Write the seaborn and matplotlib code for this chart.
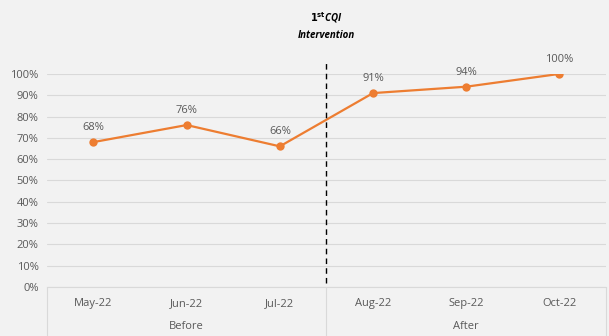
import numpy as np
import seaborn as sns
import matplotlib.pyplot as plt
import matplotlib.transforms as mtransforms
import pandas as pd

months = ['May-22', 'Jun-22', 'Jul-22', 'Aug-22', 'Sep-22', 'Oct-22']
groups = ['Before', 'Before', 'Before', 'After', 'After', 'After']
compliance = [0.68, 0.76, 0.66, 0.91, 0.94, 1.00]
y_ticks = [0, 0.1, 0.2, 0.3, 0.4, 0.5, 0.6, 0.7, 0.8, 0.9, 1.0]

BG = '#f2f2f2'
ORANGE = '#ed7d31'
GREY = '#595959'
GRID = '#d9d9d9'

df = pd.DataFrame({'month': months, 'group': groups, 'value': compliance})

sns.set_style('white')
plt.rcParams['font.family'] = ['Open Sans', 'DejaVu Sans']

fig = plt.figure(figsize=(6.09, 3.36), dpi=100, facecolor=BG)
ax = fig.add_axes([0.077, 0.146, 0.918, 0.634], facecolor=BG)

sns.lineplot(data=df, x='month', y='value', ax=ax, color=ORANGE,
             marker='o', markersize=6, markeredgewidth=0, linewidth=1.6,
             sort=False)

ax.set_xlim(-0.5, len(months) - 0.5)
ax.set_ylim(0, 1.0)
ax.set_yticks(y_ticks)
ax.set_yticklabels([f'{int(round(t * 100))}%' for t in y_ticks])
ax.yaxis.grid(True, color=GRID, linewidth=0.8)
ax.set_axisbelow(True)
for s in ['top', 'right', 'left']:
    ax.spines[s].set_visible(False)
ax.spines['bottom'].set_color(GRID)
ax.tick_params(axis='both', length=0, labelsize=8, colors=GREY)
ax.tick_params(axis='x', pad=8)
ax.tick_params(axis='y', pad=6)
ax.set_xlabel('')
ax.set_ylabel('')

# data labels
for i, v in enumerate(compliance):
    ax.annotate(f'{int(round(v * 100))}%', (i, v), xytext=(0, 6.5),
                textcoords='offset points', ha='center', va='bottom',
                fontsize=8, color=GREY)

# intervention line
ax.plot([2.5, 2.5], [0.02, 1.06], color='black', linestyle=(0, (4, 3)),
        linewidth=1.0, clip_on=False)
ax.text(2.5, 1.265, r'$\mathbf{1^{st}}$CQI', ha='center', va='center',
        fontsize=7, fontstyle='italic', fontweight='bold', color='black')
ax.text(2.5, 1.18, 'Intervention', ha='center', va='center',
        fontsize=7, fontstyle='italic', fontweight='bold', color='black')

# category group box below axis
trans = mtransforms.blended_transform_factory(ax.transData, ax.transAxes)
for xb in [-0.5, 2.5, 5.5]:
    ax.plot([xb, xb], [0, -0.23], color=GRID, linewidth=0.8,
            transform=trans, clip_on=False)
labels_seen = []
for g in groups:
    if g not in labels_seen:
        labels_seen.append(g)
for g in labels_seen:
    idx = [i for i, gg in enumerate(groups) if gg == g]
    ax.text(np.mean(idx), -0.185, g, transform=trans, ha='center',
            va='center', fontsize=8, color=GREY)

fig.savefig('out.png', dpi=100, facecolor=BG)
